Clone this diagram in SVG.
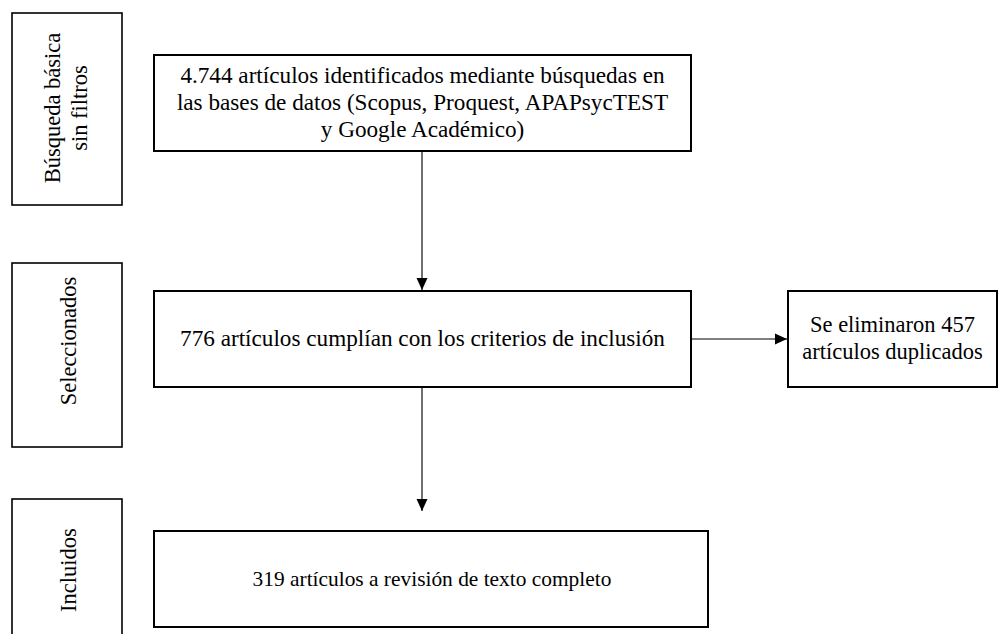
<svg xmlns="http://www.w3.org/2000/svg" width="998" height="634" viewBox="0 0 998 634">
  <style>
    .box { fill: #ffffff; stroke: #000000; stroke-width: 2; }
    .side { fill: #ffffff; stroke: #000000; stroke-width: 1.6; }
    .t { font-family: 'Liberation Serif', 'DejaVu Serif', 'Times New Roman', serif; font-size: 22.5px; fill: #000000; text-anchor: middle; }
    .big { font-size: 23.2px; }
    .small { font-size: 21.4px; }
    .conn { stroke: #222222; stroke-width: 1.3; fill: none; marker-end: url(#arrow); }
  </style>
  <defs>
    <marker id="arrow" markerWidth="12" markerHeight="12" viewBox="0 0 12 12" refX="12" refY="6" orient="auto" markerUnits="userSpaceOnUse">
      <path d="M0,0.5 L12,6 L0,11.5 Z" fill="#000000"/>
    </marker>
  </defs>

  <g id="side-busqueda">
    <rect class="side" x="12" y="13" width="110" height="192"/>
    <text class="t" transform="translate(60,108) rotate(-90)">Búsqueda básica</text>
    <text class="t" transform="translate(87,108) rotate(-90)">sin filtros</text>
  </g>
  <g id="side-seleccionados">
    <rect class="side" x="12" y="263" width="110" height="184"/>
    <text class="t" transform="translate(76,341) rotate(-90)">Seleccionados</text>
  </g>
  <g id="side-incluidos">
    <rect class="side" x="12" y="499" width="110" height="140"/>
    <text class="t" transform="translate(76,570) rotate(-90)">Incluidos</text>
  </g>

  <g id="n-identificados">
    <rect class="box" x="154" y="55" width="537" height="96"/>
    <text class="t big" x="422.5" y="83">4.744 artículos identificados mediante búsquedas en</text>
    <text class="t big" x="422.5" y="110">las bases de datos (Scopus, Proquest, APAPsycTEST</text>
    <text class="t big" x="422.5" y="137">y Google Académico)</text>
  </g>
  <g id="n-seleccionados">
    <rect class="box" x="154" y="291" width="537" height="96"/>
    <text class="t big" x="422.5" y="346">776 artículos cumplían con los criterios de inclusión</text>
  </g>
  <g id="n-eliminados">
    <rect class="box" x="788" y="291" width="209" height="96"/>
    <text class="t" x="892.5" y="332">Se eliminaron 457</text>
    <text class="t" x="892.5" y="359">artículos duplicados</text>
  </g>
  <g id="n-incluidos">
    <rect class="box" x="154" y="531" width="554" height="96"/>
    <text class="t small" x="432" y="586">319 artículos a revisión de texto completo</text>
  </g>

  <g id="connectors">
    <line class="conn" x1="422" y1="152" x2="422" y2="290"/>
    <line class="conn" x1="692" y1="339" x2="787" y2="339" style="stroke:#555555"/>
    <line class="conn" x1="422" y1="388" x2="422" y2="511"/>
  </g>
</svg>
